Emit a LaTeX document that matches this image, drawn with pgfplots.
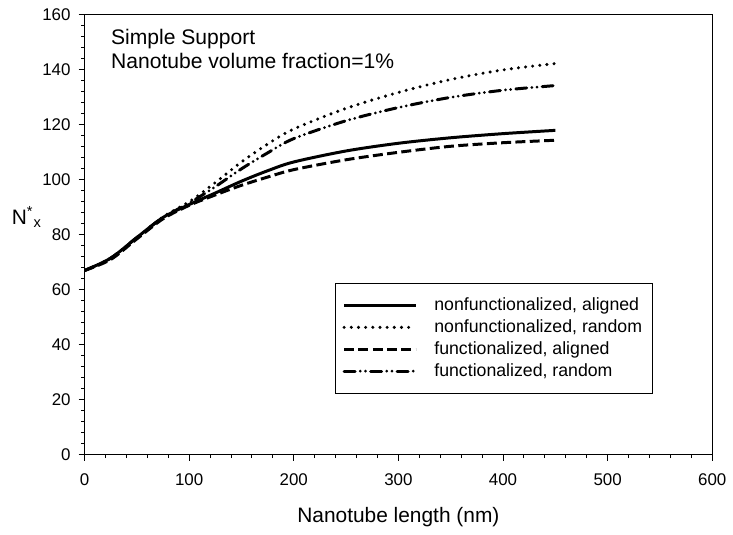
\documentclass[border=0pt]{standalone}
\usepackage{fontspec}
\setmainfont{Liberation Sans}
\usepackage{pgfplots}
\pgfplotsset{compat=1.18}

\begin{document}
\begin{tikzpicture}
\begin{axis}[
  name=ax,
  scale only axis,
  width=315.5pt, height=221pt,
  xmin=0, xmax=600, ymin=0, ymax=160,
  xtick={0,100,...,600}, ytick={0,20,...,160},
  minor x tick num=4, minor y tick num=4,
  xtick pos=left, ytick pos=left,
  tick align=outside,
  major tick length=3pt, minor tick length=1.7pt,
  every tick/.style={black, line width=0.5pt},
  axis line style={line width=0.5pt},
  /pgf/number format/assume math mode=true,
  ticklabel style={font=\fontsize{8.5}{10}\selectfont},
  xticklabel style={yshift=-3pt},
  yticklabel style={xshift=-0.5pt},
  label style={font=\fontsize{10.5}{12}\selectfont},
  xlabel={Nanotube length (nm)},
  xlabel style={at={(rel axis cs:0.5,0)}, anchor=center, yshift=-31.5pt},
  ylabel={N\textsuperscript{*}\textsubscript{x}},
  ylabel style={at={(rel axis cs:-0.092,0.54)}, rotate=-90, anchor=center},
  legend style={at={(rel axis cs:0.399,0.391)}, anchor=north west,
    draw=black, line width=0.5pt, inner xsep=3.5pt, inner ysep=5.7pt,
    font=\fontsize{8.9}{11}\selectfont, row sep=0pt,
    nodes={text height=7pt, text depth=2pt, inner ysep=1pt, inner xsep=1.5pt},
    /tikz/every odd column/.append style={column sep=7pt}},
  legend cell align=left,
  legend image code/.code={\draw[#1] (0pt,0pt) -- (36pt,0pt);},
  every axis plot/.append style={black, line width=1.5pt, smooth},
]
\addplot[solid] coordinates {(0,67) (25,71.5) (50,79) (75,86.3) (100,91) (125,95.2) (150,99.5) (175,103.3) (200,106.5) (250,110.5) (300,113.3) (350,115.3) (400,116.8) (450,118)};
\addlegendentry{nonfunctionalized, aligned}
\addplot[line cap=round, line width=1.7pt, dash pattern=on 0pt off 3.6pt] coordinates {(0,67) (25,71.5) (50,79) (75,86.5) (100,92) (125,99) (150,106.5) (175,113) (200,118.5) (250,126) (300,131.8) (350,136.5) (400,140) (450,142.3)};
\addlegendentry{nonfunctionalized, random}
\addplot[dash pattern=on 5pt off 2.2pt] coordinates {(0,67) (25,71) (50,78.5) (75,85.8) (100,90.7) (125,94.5) (150,98) (175,101) (200,103.7) (250,107.3) (300,110) (350,112.2) (400,113.5) (450,114.4)};
\addlegendentry{functionalized, aligned}
\addplot[line cap=round, dash pattern=on 5.5pt off 2.6pt on 0pt off 2.6pt on 0pt off 2.6pt] coordinates {(0,67) (25,71.5) (50,79) (75,86.3) (100,91.5) (125,97.5) (150,104) (175,109.8) (200,115) (250,121.5) (300,126.3) (350,130) (400,132.6) (450,134.3)};
\addlegendentry{functionalized, random}
\node[anchor=north west, align=left, inner sep=0pt, font=\fontsize{10.6}{12.2}\selectfont] at (axis cs:25,155) {Simple Support\\Nanotube volume fraction=1\%};
\end{axis}
\path ([xshift=-42.5pt,yshift=-40pt]ax.south west) rectangle ([xshift=8.5pt,yshift=7.5pt]ax.north east);
\end{tikzpicture}
\end{document}
